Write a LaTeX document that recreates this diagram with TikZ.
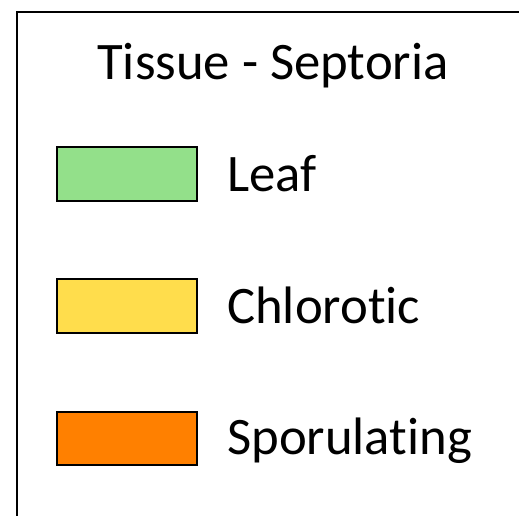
\documentclass[tikz,border=0pt]{standalone}
\usepackage{fontspec}
\setmainfont{Carlito}[Ligatures={NoCommon}]
\definecolor{leafgreen}{RGB}{147,224,138}
\definecolor{chloroyellow}{RGB}{255,221,76}
\definecolor{sporeorange}{RGB}{255,128,0}
\begin{document}
\begin{tikzpicture}[x=1pt,y=-1pt,
  swatch/.style={draw=black,line width=2pt,minimum width=140pt,minimum height=53.5pt,inner sep=0pt,anchor=north west},
  lbl/.style={anchor=base west,inner sep=0pt,font=\fontsize{52.7}{60}\selectfont},
  ttl/.style={anchor=base,inner sep=0pt,font=\fontsize{52.7}{60}\selectfont}]
\useasboundingbox (0,0) rectangle (519,516);
\draw[line width=2pt] (17,517) -- (17,12) -- (520,12);
\node[ttl] (title) at (273,80) {Tissue - Septoria};
\node[swatch,fill=leafgreen] (leafbox) at (56,146) {};
\node[lbl] (leaf) at (227,191) {Leaf};
\node[swatch,fill=chloroyellow] (chlbox) at (56,278) {};
\node[lbl] (chl) at (227,323) {Chlorotic};
\node[swatch,fill=sporeorange] (spobox) at (56,410.5) {};
\node[lbl] (spo) at (227,454.5) {Sporulating};
\end{tikzpicture}
\end{document}
